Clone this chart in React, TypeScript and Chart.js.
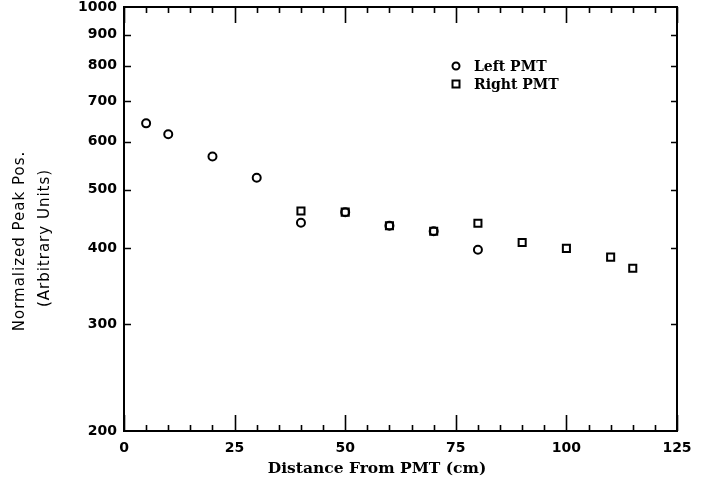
import React, { useEffect, useRef } from "react";
import { Chart, registerables } from "chart.js";

Chart.register(...registerables);

const leftX = [5, 10, 20, 30, 40, 50, 60, 70, 80];
const leftY = [643, 617, 567, 523, 441, 459, 436, 427, 398];
const rightX = [40, 50, 60, 70, 80, 90, 100, 110, 115];
const rightY = [461, 459, 436, 427, 440, 409, 400, 387, 371];
const yTicks = [200, 300, 400, 500, 600, 700, 800, 900, 1000];
const xMajorTicks = [0, 25, 50, 75, 100, 125];
const xMinorStep = 5;
const seriesLabels = ["Left PMT", "Right PMT"];
const xTitle = "Distance From PMT (cm)";
const yTitle = ["Normalized Peak Pos.", "(Arbitrary Units)"];

const framePlugin = {
  id: "framePlugin",
  afterDatasetsDraw(chart: any) {
    const { ctx, chartArea: a, scales } = chart;
    const xs = scales.x;
    const ys = scales.y;
    ctx.save();
    ctx.strokeStyle = "#000";
    ctx.lineWidth = 2;
    ctx.strokeRect(a.left, a.top, a.right - a.left, a.bottom - a.top);
    ctx.lineWidth = 1.6;
    ctx.beginPath();
    for (let v = xMajorTicks[0]; v <= xMajorTicks[xMajorTicks.length - 1]; v += xMinorStep) {
      const px = Math.round(xs.getPixelForValue(v)) + 0.5;
      const major = xMajorTicks.includes(v);
      const len = major ? 16 : 6;
      ctx.moveTo(px, a.bottom);
      ctx.lineTo(px, a.bottom - len);
      ctx.moveTo(px, a.top);
      ctx.lineTo(px, a.top + len);
    }
    for (const v of yTicks.slice(1, -1)) {
      const py = Math.round(ys.getPixelForValue(v)) + 0.5;
      ctx.moveTo(a.left, py);
      ctx.lineTo(a.left + 7, py);
      ctx.moveTo(a.right, py);
      ctx.lineTo(a.right - 6, py);
    }
    ctx.stroke();
    ctx.restore();
  },
  afterDraw(chart: any) {
    const { ctx } = chart;
    ctx.save();
    ctx.fillStyle = "#000";
    // x title
    ctx.font = "bold 15.5px 'DejaVu Serif'";
    ctx.textAlign = "center";
    ctx.textBaseline = "middle";
    ctx.fillText(xTitle, 377, 469);
    // y title
    ctx.font = "15px 'DejaVu Sans'";
    (ctx as any).letterSpacing = "1px";
    const centers = [[20, 241], [45, 238]];
    yTitle.forEach((t, i) => {
      ctx.save();
      ctx.translate(centers[i][0], centers[i][1]);
      ctx.rotate(-Math.PI / 2);
      ctx.fillText(t, 0, 0);
      ctx.restore();
    });
    (ctx as any).letterSpacing = "0px";
    // legend
    ctx.font = "bold 14px 'DejaVu Serif'";
    ctx.textAlign = "left";
    const rows = [66, 84];
    chart.data.datasets.forEach((ds: any, i: number) => {
      ctx.lineWidth = 2;
      ctx.strokeStyle = "#000";
      ctx.beginPath();
      if (ds.pointStyle === "circle") {
        ctx.arc(456, rows[i], 3.5, 0, Math.PI * 2);
      } else {
        ctx.rect(452.5, rows[i] - 3.5, 7, 7);
      }
      ctx.stroke();
      ctx.fillText(ds.label, 474, rows[i] + 1);
    });
    ctx.restore();
  },
};

export default function App() {
  const ref = useRef<HTMLCanvasElement>(null);
  useEffect(() => {
    if (!ref.current) return;
    const chart = new Chart(ref.current, {
      type: "scatter",
      data: {
        datasets: [
          {
            label: seriesLabels[0],
            data: leftX.map((x, i) => ({ x, y: leftY[i] })),
            pointStyle: "circle",
            pointRadius: 4,
            borderColor: "#000",
            backgroundColor: "rgba(0,0,0,0)",
            borderWidth: 2,
          },
          {
            label: seriesLabels[1],
            data: rightX.map((x, i) => ({ x, y: rightY[i] })),
            pointStyle: "rect",
            pointRadius: 5,
            borderColor: "#000",
            backgroundColor: "rgba(0,0,0,0)",
            borderWidth: 2,
          },
        ],
      },
      options: {
        animation: false,
        responsive: false,
        layout: { padding: { top: 6, right: 31, left: 0, bottom: 0 } },
        plugins: { legend: { display: false }, tooltip: { enabled: false } },
        scales: {
          x: {
            type: "linear",
            min: 0,
            max: 125,
            grid: { display: false, drawTicks: false },
            border: { display: false },
            afterBuildTicks: (s: any) => {
              s.ticks = xMajorTicks.map((v) => ({ value: v }));
            },
            ticks: {
              color: "#000",
              padding: 9,
              maxRotation: 0,
              font: { family: "'DejaVu Sans'", weight: "bold", size: 14 },
            },
            afterFit: (s: any) => {
              s.height = 49;
              s.paddingLeft = 0;
              s.paddingRight = 0;
            },
          },
          y: {
            type: "logarithmic",
            min: 200,
            max: 1000,
            grid: { display: false, drawTicks: false },
            border: { display: false },
            afterBuildTicks: (s: any) => {
              s.ticks = yTicks.map((v) => ({ value: v }));
            },
            ticks: {
              color: "#000",
              padding: 7,
              callback: (v: any) => String(v),
              font: { family: "'DejaVu Sans'", weight: "bold", size: 14 },
            },
            afterFit: (s: any) => {
              s.width = 124;
              s.paddingTop = 0;
              s.paddingBottom = 0;
            },
          },
        },
      },
      plugins: [framePlugin],
    } as any);
    return () => chart.destroy();
  }, []);
  return (
    <div style={{ position: "absolute", left: 0, top: 0, width: 708, height: 480 }}>
      <canvas ref={ref} width={708} height={480} style={{ display: "block" }} />
    </div>
  );
}
